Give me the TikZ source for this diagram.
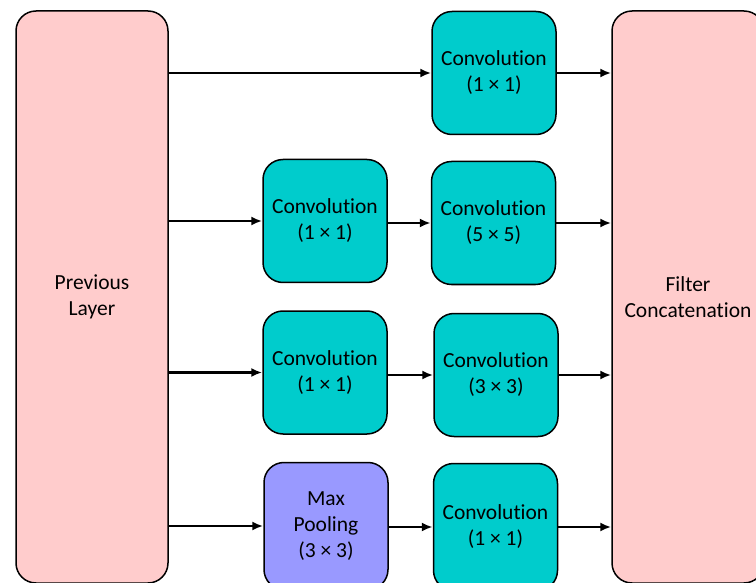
\documentclass[tikz,border=0pt]{standalone}
\usepackage{fontspec}
\setmainfont{Carlito}[Ligatures=NoCommon]
\usepackage{xcolor}
\usetikzlibrary{arrows.meta,positioning,calc}
\definecolor{Layer}{HTML}{FFCCCC}
\definecolor{Conv}{HTML}{00CCCC}
\definecolor{Pool}{HTML}{9999FF}

\begin{document}
\begin{tikzpicture}[x=1pt,y=-1pt,>={Latex[length=11pt,width=9pt]},
  font=\fontsize{21.5}{26}\selectfont,
  blockbox/.style={draw=black,line width=1.5pt,rounded corners=20pt,align=center,
    inner sep=0pt,minimum width=124pt,minimum height=123pt,fill=Conv},
  layerbox/.style={blockbox,fill=Layer,minimum width=152pt,minimum height=572pt},
  poolbox/.style={blockbox,fill=Pool},
  flow/.style={->,line width=2.3pt}]
  \useasboundingbox (0,0) rectangle (756,583);
  \clip (0,0) rectangle (756,583);
  % outer layers
  \node[layerbox] (prev) at (92,297) {Previous\\Layer};
  \node[layerbox] (concat) at (688,297) {Filter\\Concatenation};
  % branch 1
  \node[blockbox] (b1) at (494,73) {Convolution\\(1 × 1)};
  % branch 2
  \node[blockbox] (b2a) at (325,221) {Convolution\\(1 × 1)};
  \node[blockbox] (b2b) at (493.5,223) {Convolution\\(5 × 5)};
  % branch 3
  \node[blockbox] (b3a) at (325,372.5) {Convolution\\(1 × 1)};
  \node[blockbox] (b3b) at (496,375) {Convolution\\(3 × 3)};
  % branch 4
  \node[poolbox,minimum height=127pt] (b4a) at (326,526) {Max\\Pooling\\(3 × 3)};
  \node[blockbox,minimum height=127pt] (b4b) at (495.5,527) {Convolution\\(1 × 1)};
  % connectors
  \draw[flow] (prev.east |- b1.west) -- (b1.west);
  \draw[flow] (b1.east) -- (b1.east -| concat.west);
  \foreach \a/\b in {b2a/b2b,b3a/b3b,b4a/b4b}{
    \draw[flow] (prev.east |- \a.west) -- (\a.west);
    \draw[flow] (\b.west -| \a.east) -- (\b.west);
    \draw[flow] (\b.east) -- (\b.east -| concat.west);
  }
\end{tikzpicture}
\end{document}
